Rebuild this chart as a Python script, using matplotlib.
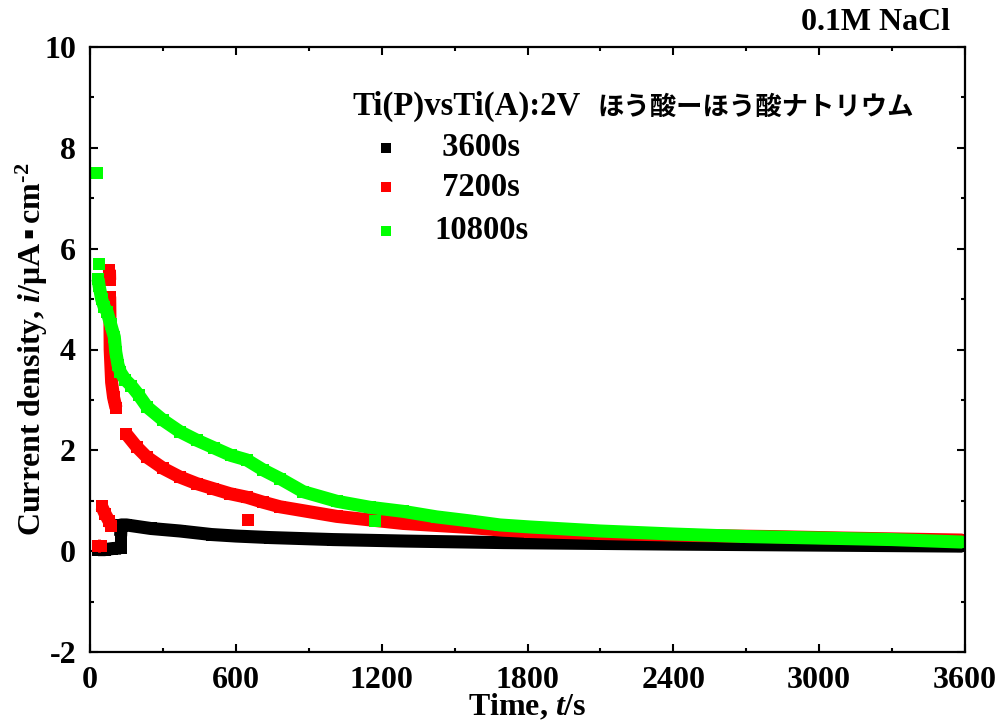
import numpy as np
import matplotlib
matplotlib.use("Agg")
import matplotlib.pyplot as plt
from matplotlib.lines import Line2D
from matplotlib.ticker import MultipleLocator

plt.rcParams['font.family'] = ['Liberation Serif', 'Noto Sans CJK JP', 'DejaVu Sans']
plt.rcParams['font.weight'] = 'bold'
plt.rcParams['axes.labelweight'] = 'bold'
plt.rcParams['axes.unicode_minus'] = False
plt.rcParams['mathtext.fontset'] = 'custom'
plt.rcParams['mathtext.rm'] = 'Liberation Serif:bold'
plt.rcParams['mathtext.bf'] = 'Liberation Serif:bold'
plt.rcParams['mathtext.it'] = 'Liberation Serif:bold:italic'
plt.rcParams['mathtext.fallback'] = 'stix'

nan = np.nan

# ---- current transients (t in s, i in uA/cm2); nan separates unconnected runs ----
t_3600 = [33, 60, 90, 115, 128, nan,
          126, 128, 150, 250, 370, 500, 600, 740, 1000, 1300, 1700, 2400, 3000, 3590]
i_3600 = [0.03, 0.03, 0.05, 0.06, 0.06, nan,
          0.30, 0.52, 0.52, 0.45, 0.40, 0.33, 0.30, 0.27, 0.23, 0.20, 0.17, 0.14, 0.12, 0.10]

t_7200 = [33, 45, nan,
          48, 62, 78, 88, nan,
          80, 81, nan,
          81, 82, 83, 89, 97, 107, nan,
          150, 192, 233, 302, 370, 439, 507, 576, 645, 713, 782, 1015, 1288, 1563,
          1687, 1810, 2100, 2500, 2800, 3100, 3590, nan,
          651]
i_7200 = [0.10, 0.10, nan,
          0.89, 0.74, 0.60, 0.50, nan,
          5.58, 5.38, nan,
          5.05, 4.65, 4.00, 3.35, 3.05, 2.84, nan,
          2.32, 2.07, 1.87, 1.64, 1.47, 1.34, 1.24, 1.14, 1.07, 0.97, 0.88, 0.69, 0.55, 0.47,
          0.42, 0.39, 0.35, 0.31, 0.29, 0.26, 0.22, nan,
          0.61]

t_10800 = [30, nan, 35, nan,
           33, 38, 48, 58, 70, 85, 100, 106, 115, 125, 145, 170, 200, 235, 300, 370, 440,
           510, 580, 645, 713, 782, 877, 1015, 1152, 1288, 1426, 1563, 1687, 1810, 2100,
           2400, 2700, 3000, 3300, 3590, nan,
           1172]
i_10800 = [7.50, nan, 5.70, nan,
           5.40, 5.25, 5.00, 4.85, 4.75, 4.50, 4.25, 3.95, 3.70, 3.55, 3.40, 3.28, 3.10, 2.86,
           2.60, 2.37, 2.20, 2.05, 1.90, 1.81, 1.61, 1.44, 1.18, 0.99, 0.87, 0.79, 0.68, 0.60,
           0.52, 0.48, 0.40, 0.34, 0.29, 0.26, 0.23, 0.18, nan,
           0.60]

series = [
    (" 3600s", t_3600, i_3600, "#000000"),
    (" 7200s", t_7200, i_7200, "#ff0000"),
    ("10800s", t_10800, i_10800, "#00ff00"),
]

x_ticks = [0, 600, 1200, 1800, 2400, 3000, 3600]
y_ticks = [-2, 0, 2, 4, 6, 8, 10]

fig = plt.figure(figsize=(10, 7.22), dpi=100)
ax = fig.add_axes([0.09, 70 / 722, 0.875, 605 / 722])

msize = 8.4
for label, t, i, c in series:
    ax.plot(t, i, color=c, marker='s', markersize=msize, markeredgewidth=0,
            linewidth=9.4, solid_capstyle='butt', solid_joinstyle='round')

ax.set_xlim(0, 3600)
ax.set_ylim(-2, 10)
ax.set_xticks(x_ticks)
ax.set_yticks(y_ticks)
ax.set_xticklabels([str(v) for v in x_ticks])
ax.set_yticklabels([str(v) for v in y_ticks])
ax.xaxis.set_minor_locator(MultipleLocator(300))
ax.yaxis.set_minor_locator(MultipleLocator(1))
ax.tick_params(which='both', direction='in', top=True, right=True, width=1.5,
               labelsize=23)
ax.tick_params(which='major', length=6)
ax.tick_params(which='minor', length=3)
ax.tick_params(axis='x', which='major', pad=10)
ax.tick_params(axis='y', which='major', pad=10)
for sp in ax.spines.values():
    sp.set_linewidth(1.6)

ax.set_xlabel(r'Time, $\mathit{t}$/s', fontsize=23, fontweight='bold', labelpad=-2)
ax.set_ylabel(r'Current density, $\mathit{i}$/μA$\,$▪$\,$cm$^{\text{-2}}$', fontsize=23,
              fontweight='bold', labelpad=-4)

# header and legend block
fig.text(0.352, 1 - 106 / 722, 'Ti(P)vsTi(A):2V', fontsize=23.6, fontweight='bold',
         family='Liberation Serif', va='center', ha='left')
fig.text(0.598, 1 - 107 / 722, 'ほう酸ーほう酸ナトリウム', fontsize=19, fontweight='bold',
         family='Noto Sans CJK JP', va='center', ha='left')
for k, (label, t, i, c) in enumerate(series):
    ypix = [148, 187, 231][k]
    fig.add_artist(Line2D([386 / 1000], [1 - ypix / 722], transform=fig.transFigure,
                          marker='s', markersize=7, markeredgewidth=0, color=c,
                          linestyle='none'))
    fig.text(434 / 1000, 1 - ypix / 722, label, fontsize=23.5, fontweight='bold',
             va='center', ha='left', family='Liberation Serif')

fig.text(950 / 1000, 1 - 22 / 722, '0.1M NaCl', fontsize=23, fontweight='bold',
         va='center', ha='right', family='Liberation Serif')

fig.savefig('out.png', dpi=100)
